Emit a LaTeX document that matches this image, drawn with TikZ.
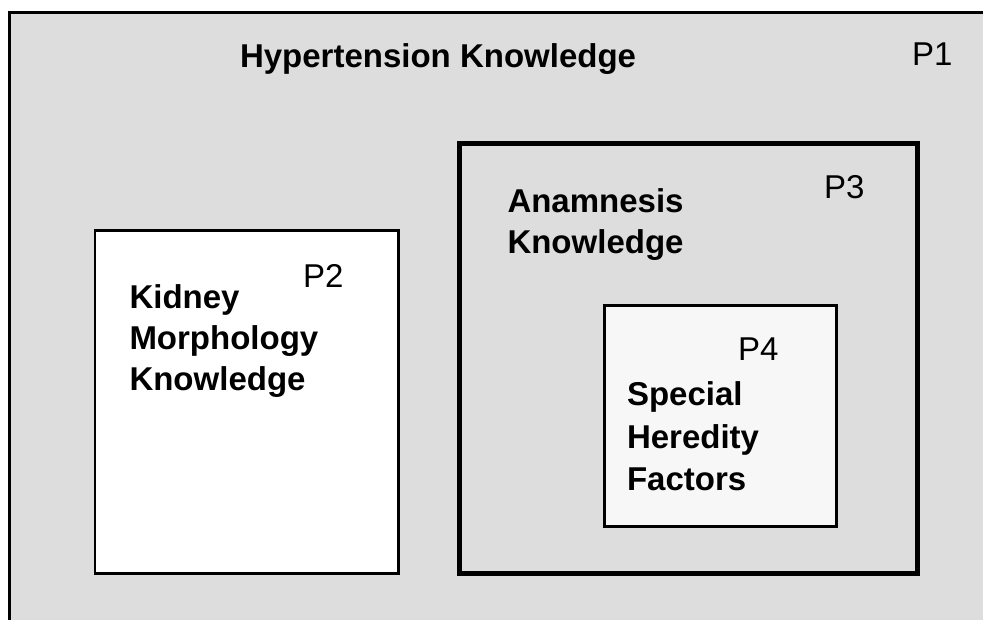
\documentclass[tikz,border=0pt]{standalone}
\usepackage{fontspec}
\setmainfont{Liberation Sans}
\definecolor{outergray}{HTML}{DDDDDD}
\definecolor{innergray}{HTML}{F7F7F7}
\tikzset{
  lbl/.style={anchor=base west, inner sep=0pt, outer sep=0pt, font=\fontsize{33}{40}\selectfont\bfseries},
  plbl/.style={anchor=base west, inner sep=0pt, outer sep=0pt, font=\fontsize{33}{40}\selectfont},
  thinbox/.style={draw=black, line width=2.5pt},
}
\begin{document}
\begin{tikzpicture}[x=1pt,y=-1pt]
\useasboundingbox (0,0) rectangle (983,620);
\clip (0,0) rectangle (983,620);
\fill[white] (0,0) rectangle (983,620);
% outer package P1
\draw[fill=outergray, line width=3pt] (9.5,12.5) rectangle (995,635);
% P2
\draw[thinbox, fill=white] (95,230.5) rectangle (398.7,573.7);
% P3
\draw[draw=black, line width=5pt] (459,144) rectangle (917.7,573.3);
% P4
\draw[thinbox, fill=innergray] (604.7,305.5) rectangle (836.5,526.5);

\node[lbl] (title) at (240,68) {Hypertension Knowledge};
\node[plbl] (p1) at (912,66) {P1};

\node[plbl] (p2) at (303,288) {P2};
\node[lbl] (k1) at (129.5,309) {Kidney};
\node[lbl] (k2) at (129.5,349.5) {Morphology};
\node[lbl] (k3) at (129.5,390) {Knowledge};

\node[plbl] (p3) at (824,199) {P3};
\node[lbl] (a1) at (507.5,213) {Anamnesis};
\node[lbl] (a2) at (507.5,254) {Knowledge};

\node[plbl] (p4) at (738,361) {P4};
\node[lbl] (s1) at (627,406) {Special};
\node[lbl] (s2) at (627,448) {Heredity};
\node[lbl] (s3) at (627,490) {Factors};
\end{tikzpicture}
\end{document}
